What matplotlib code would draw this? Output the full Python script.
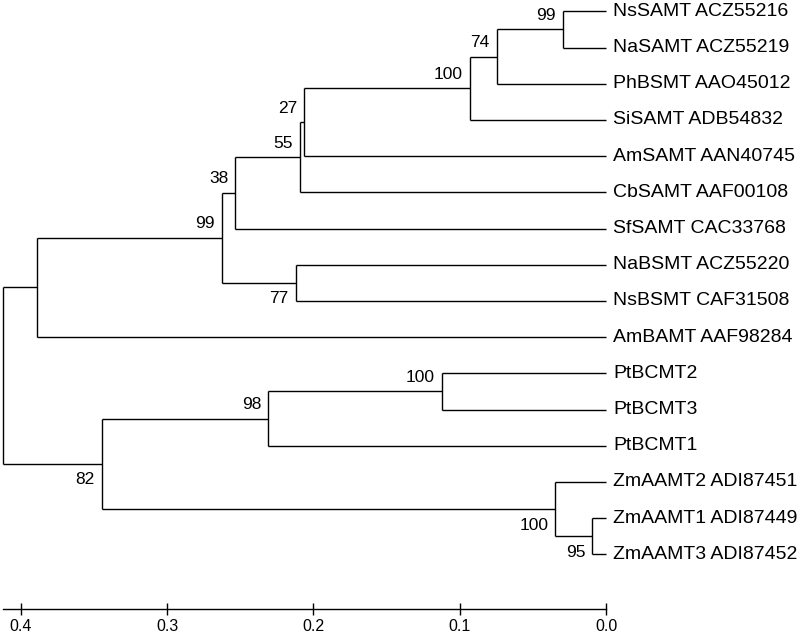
import matplotlib
matplotlib.use("Agg")
import matplotlib.pyplot as plt
from matplotlib import font_manager

# leaf names, top to bottom
leaves = ["NsSAMT ACZ55216", "NaSAMT ACZ55219", "PhBSMT AAO45012",
          "SiSAMT ADB54832", "AmSAMT AAN40745", "CbSAMT AAF00108",
          "SfSAMT CAC33768", "NaBSMT ACZ55220", "NsBSMT CAF31508",
          "AmBAMT AAF98284", "PtBCMT2", "PtBCMT3", "PtBCMT1",
          "ZmAAMT2 ADI87451", "ZmAAMT1 ADI87449", "ZmAAMT3 ADI87452"]

# internal nodes: name -> children (leaf index or node name)
node_names = ["A", "B", "C", "D", "E", "F", "G", "H", "I",
              "J", "K", "L", "M", "N", "R"]
node_children = [(0, 1), ("A", 2), ("B", 3), ("C", 4), ("D", 5), ("E", 6),
                 (7, 8), ("F", "G"), ("H", 9),
                 (10, 11), ("J", 12), (14, 15), (13, "L"), ("K", "M"),
                 ("I", "N")]
# node depth measured back from the tips (substitutions/site)
node_heights = [0.0296, 0.0747, 0.0930, 0.2064, 0.2092, 0.2534,
                0.2121, 0.2625, 0.3889,
                0.1123, 0.2310, 0.0094, 0.0347, 0.3447, 0.4122]
bootstrap = [99, 74, 100, 27, 55, 38, 77, 99, None,
             100, 98, 95, 100, 82, None]
bs_below = [False, False, False, False, False, False, True, False, False,
            False, False, True, True, True, False]

scale_ticks = [0.4, 0.3, 0.2, 0.1, 0.0]

avail = {f.name for f in font_manager.fontManager.ttflist}
LABEL = "Liberation Sans" if "Liberation Sans" in avail else "DejaVu Sans"

W, H = 800, 634
fig = plt.figure(figsize=(W / 100, H / 100), dpi=100)
axis_y = 608.8
ax = fig.add_axes([0, (H - axis_y) / H, 1, axis_y / H])
ax.set_xlim(606 / 1463, -194 / 1463)
ax.set_ylim((axis_y - 11.3) / 36.2, -11.3 / 36.2)

pos = {}   # name -> (x, y)
for i in range(len(leaves)):
    pos[i] = (0.0, float(i))

for name, (c1, c2), h in zip(node_names, node_children, node_heights):
    y1, y2 = pos[c1][1], pos[c2][1]
    pos[name] = (h, (y1 + y2) / 2)
    ax.plot([h, h], [y1, y2], color="black", lw=1.0, solid_capstyle="butt")
    for c in (c1, c2):
        ax.plot([h, pos[c][0]], [pos[c][1], pos[c][1]], color="black", lw=1.0,
                solid_capstyle="butt")

for i, lab in enumerate(leaves):
    ax.annotate(lab, (0.0, i), xytext=(5, 0), textcoords="offset points",
                ha="left", va="center", fontsize=14, family=LABEL)

for name, bs, below in zip(node_names, bootstrap, bs_below):
    if bs is None:
        continue
    x, y = pos[name]
    ax.annotate(str(bs), (x, y), xytext=(-5, -11.5 if below else 10),
                textcoords="offset points", ha="right", va="center",
                fontsize=12.5, family=LABEL)

# scale axis along the bottom
for sp in ("top", "right", "left"):
    ax.spines[sp].set_visible(False)
ax.spines["bottom"].set_bounds(0.0, 0.4122)
ax.spines["bottom"].set_linewidth(1.0)
ax.set_yticks([])
ax.set_xticks(scale_ticks)
ax.set_xticklabels([f"{t:.1f}" for t in scale_ticks], family=LABEL, fontsize=11.5)
ax.tick_params(axis="x", direction="inout", length=9, width=1.0, pad=2.5)
ax.patch.set_alpha(0)

fig.savefig("out.png", dpi=100)
